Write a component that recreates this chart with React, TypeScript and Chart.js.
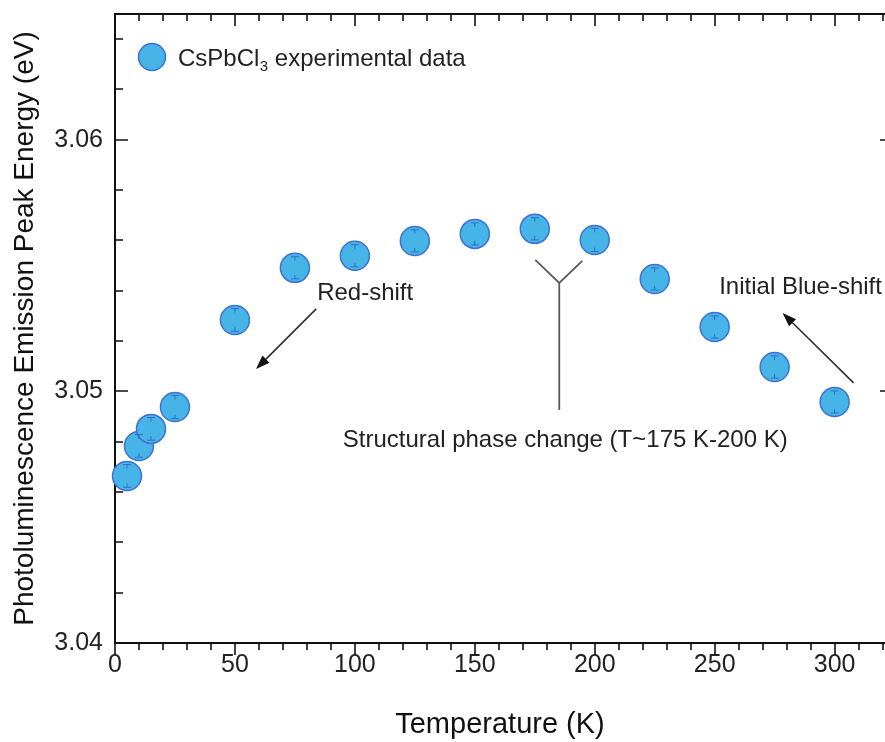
import React, { useEffect, useRef } from "react";
import { Chart, registerables } from "chart.js";

Chart.register(...registerables);

// ---- data ----
const temperatures = [5, 10, 15, 25, 50, 75, 100, 125, 150, 175, 200, 225, 250, 275, 300];
const peakEnergy = [
  3.04664, 3.04783, 3.04851, 3.04938, 3.05284, 3.05491, 3.05539, 3.05598, 3.05626, 3.05646,
  3.05602, 3.05447, 3.05256, 3.05097, 3.04958,
];
const energyError = [
  0.00045, 0.00045, 0.00045, 0.00046, 0.00045, 0.00044, 0.00044, 0.00044, 0.00044, 0.00044,
  0.00046, 0.00044, 0.00044, 0.00044, 0.00044,
];

const xMajorTicks = [0, 50, 100, 150, 200, 250, 300];
const xMinorTicks = [10, 20, 30, 40, 60, 70, 80, 90, 110, 120, 130, 140, 160, 170, 180, 190, 210, 220, 230, 240, 260, 270, 280, 290, 310, 320];
const yMajorTicks = [3.04, 3.05, 3.06];
const yMinorTicks = [3.042, 3.044, 3.046, 3.048, 3.052, 3.054, 3.056, 3.058, 3.062, 3.064];

const legendParts = ["CsPbCl", "3", " experimental data"];

// annotations (data coordinates)
const labelTexts = ["Red-shift", "Initial Blue-shift", "Structural phase change (T~175 K-200 K)"];
const labelX = [104.3, 285.8, 187.7];
const labelY = [3.05388, 3.05412, 3.04807];

const arrowFromX = [83.9, 307.9];
const arrowFromY = [3.05328, 3.05034];
const arrowToX = [58.8, 278.3];
const arrowToY = [3.05089, 3.05312];

// "Y" bracket: left arm top, right arm top, junction, stem bottom
const bracketX = [175.2, 194.8, 185.2, 185.2];
const bracketY = [3.05523, 3.05519, 3.05431, 3.04926];

const FONT = "'Liberation Sans', Arial, Helvetica, sans-serif";
const POINT_FILL = "#47b4e8";
const POINT_BORDER = "#3c72d4";
const ERR_COLOR = "rgba(45, 85, 180, 0.75)";
const AXIS_COLOR = "#111111";

function drawArrow(ctx: CanvasRenderingContext2D, x1: number, y1: number, x2: number, y2: number) {
  const head = 14;
  const hw = 5;
  const ang = Math.atan2(y2 - y1, x2 - x1);
  const bx = x2 - head * Math.cos(ang);
  const by = y2 - head * Math.sin(ang);
  ctx.beginPath();
  ctx.moveTo(x1, y1);
  ctx.lineTo(bx, by);
  ctx.stroke();
  ctx.beginPath();
  ctx.moveTo(x2, y2);
  ctx.lineTo(bx + hw * Math.sin(ang), by - hw * Math.cos(ang));
  ctx.lineTo(bx - hw * Math.sin(ang), by + hw * Math.cos(ang));
  ctx.closePath();
  ctx.fill();
}

const framePlugin = {
  id: "frame",
  beforeDatasetsDraw(chart: any) {
    const { ctx, chartArea, scales } = chart;
    const { left, right, top, bottom } = chartArea;
    const xs = scales.x;
    const ys = scales.y;
    ctx.save();
    ctx.strokeStyle = AXIS_COLOR;
    ctx.lineWidth = 2;
    ctx.beginPath();
    ctx.moveTo(left, top);
    ctx.lineTo(left, bottom);
    ctx.moveTo(left - 1, bottom);
    ctx.lineTo(right, bottom);
    ctx.moveTo(left - 1, top);
    ctx.lineTo(right, top);
    ctx.stroke();

    ctx.lineWidth = 1.6;
    ctx.beginPath();
    // x ticks: bottom outward, top inward
    xMajorTicks.forEach((v) => {
      const p = Math.round(xs.getPixelForValue(v));
      ctx.moveTo(p, bottom);
      ctx.lineTo(p, bottom + 12);
      ctx.moveTo(p, top);
      ctx.lineTo(p, top + 12);
    });
    xMinorTicks.forEach((v) => {
      const p = Math.round(xs.getPixelForValue(v));
      ctx.moveTo(p, bottom);
      ctx.lineTo(p, bottom + 7);
      ctx.moveTo(p, top);
      ctx.lineTo(p, top + 7);
    });
    // y ticks: left inward, right inward (right axis lies just beyond the frame)
    yMajorTicks.forEach((v) => {
      const p = Math.round(ys.getPixelForValue(v));
      ctx.moveTo(left, p);
      ctx.lineTo(left + 13, p);
      ctx.moveTo(right, p);
      ctx.lineTo(right - 5, p);
    });
    yMinorTicks.forEach((v) => {
      const p = Math.round(ys.getPixelForValue(v));
      ctx.moveTo(left, p);
      ctx.lineTo(left + 8, p);
    });
    ctx.stroke();
    ctx.restore();
  },
  afterDatasetsDraw(chart: any) {
    const { ctx, chartArea, scales } = chart;
    const xs = scales.x;
    const ys = scales.y;
    ctx.save();

    // error bars inside markers (caps with short stubs)
    ctx.strokeStyle = ERR_COLOR;
    ctx.lineWidth = 1;
    temperatures.forEach((t, i) => {
      const px = xs.getPixelForValue(t);
      const pTop = ys.getPixelForValue(peakEnergy[i] + energyError[i]);
      const pBot = ys.getPixelForValue(peakEnergy[i] - energyError[i]);
      ctx.beginPath();
      ctx.moveTo(px, pTop);
      ctx.lineTo(px, pTop + 4);
      ctx.moveTo(px, pBot);
      ctx.lineTo(px, pBot - 4);
      ctx.moveTo(px - 4, pTop);
      ctx.lineTo(px + 4, pTop);
      ctx.moveTo(px - 4, pBot);
      ctx.lineTo(px + 4, pBot);
      ctx.stroke();
    });

    // arrows
    ctx.strokeStyle = "#2a2a2a";
    ctx.fillStyle = "#111111";
    ctx.lineWidth = 1.5;
    arrowFromX.forEach((_, i) => {
      drawArrow(
        ctx,
        xs.getPixelForValue(arrowFromX[i]),
        ys.getPixelForValue(arrowFromY[i]),
        xs.getPixelForValue(arrowToX[i]),
        ys.getPixelForValue(arrowToY[i])
      );
    });

    // Y-shaped bracket
    ctx.strokeStyle = "#5a5a5a";
    ctx.lineWidth = 1.8;
    const bp = bracketX.map((x, i) => [xs.getPixelForValue(x), ys.getPixelForValue(bracketY[i])]);
    ctx.beginPath();
    ctx.moveTo(bp[0][0], bp[0][1]);
    ctx.lineTo(bp[2][0], bp[2][1]);
    ctx.lineTo(bp[1][0], bp[1][1]);
    ctx.moveTo(bp[2][0], bp[2][1]);
    ctx.lineTo(bp[3][0], bp[3][1]);
    ctx.stroke();

    // annotation labels
    ctx.fillStyle = "#222222";
    ctx.font = `24px ${FONT}`;
    ctx.textAlign = "center";
    ctx.textBaseline = "middle";
    labelTexts.forEach((txt, i) => {
      ctx.fillText(txt, xs.getPixelForValue(labelX[i]), ys.getPixelForValue(labelY[i]));
    });

    // legend
    const lx = chartArea.left + 37;
    const ly = chartArea.top + 43;
    ctx.beginPath();
    ctx.arc(lx, ly, 13.5, 0, Math.PI * 2);
    ctx.fillStyle = POINT_FILL;
    ctx.fill();
    ctx.strokeStyle = POINT_BORDER;
    ctx.lineWidth = 1.5;
    ctx.stroke();

    ctx.fillStyle = "#222222";
    ctx.textAlign = "left";
    ctx.textBaseline = "alphabetic";
    let tx = lx + 26;
    const base = ly + 8.5;
    ctx.font = `24px ${FONT}`;
    ctx.fillText(legendParts[0], tx, base);
    tx += ctx.measureText(legendParts[0]).width;
    ctx.font = `15px ${FONT}`;
    ctx.fillText(legendParts[1], tx + 0.5, base + 5);
    tx += ctx.measureText(legendParts[1]).width + 0.5;
    ctx.font = `24px ${FONT}`;
    ctx.fillText(legendParts[2], tx, base);

    ctx.restore();
  },
};

export default function App() {
  const canvasRef = useRef<HTMLCanvasElement | null>(null);

  useEffect(() => {
    if (!canvasRef.current) return;
    const chart = new Chart(canvasRef.current, {
      type: "scatter",
      data: {
        datasets: [
          {
            label: "CsPbCl3 experimental data",
            data: temperatures.map((t, i) => ({ x: t, y: peakEnergy[i] })),
            pointRadius: 14.5,
            pointHoverRadius: 14.5,
            pointBackgroundColor: POINT_FILL,
            pointBorderColor: POINT_BORDER,
            pointBorderWidth: 1.5,
            showLine: false,
            clip: false,
          } as any,
        ],
      },
      options: {
        responsive: false,
        animation: false,
        devicePixelRatio: 1,
        events: [],
        layout: { autoPadding: false, padding: { top: 14, right: 0, left: 0, bottom: 0 } },
        plugins: {
          legend: { display: false },
          tooltip: { enabled: false },
        },
        scales: {
          x: {
            type: "linear",
            min: 0,
            max: 321,
            afterBuildTicks: (s: any) => {
              s.ticks = xMajorTicks.map((v) => ({ value: v }));
            },
            afterFit: (s: any) => {
              s.height = 99;
              s.paddingLeft = 0;
              s.paddingRight = 0;
            },
            grid: { display: false, drawTicks: false },
            border: { display: false },
            ticks: {
              font: { family: FONT, size: 25 },
              color: "#222222",
              padding: 7,
              maxRotation: 0,
              autoSkip: false,
            },
            title: {
              display: true,
              text: "Temperature (K)",
              font: { family: FONT, size: 29 },
              color: "#111111",
              padding: { top: 0, bottom: 0 },
            },
          },
          y: {
            type: "linear",
            min: 3.04,
            max: 3.065,
            afterBuildTicks: (s: any) => {
              s.ticks = yMajorTicks.map((v) => ({ value: v }));
            },
            afterFit: (s: any) => {
              s.width = 115;
              s.paddingTop = 0;
              s.paddingBottom = 0;
            },
            grid: { display: false, drawTicks: false },
            border: { display: false },
            ticks: {
              font: { family: FONT, size: 25 },
              color: "#222222",
              padding: 12,
              callback: (v: any) => Number(v).toFixed(2),
            },
            title: {
              display: true,
              text: "Photoluminescence Emission Peak Energy (eV)",
              font: { family: FONT, size: 28 },
              color: "#111111",
              padding: { top: 8, bottom: 0 },
            },
          },
        },
      },
      plugins: [framePlugin],
    });
    return () => chart.destroy();
  }, []);

  return (
    <div style={{ position: "absolute", left: 0, top: 0, width: 885, height: 742, background: "#ffffff" }}>
      <canvas ref={canvasRef} width={885} height={742} style={{ display: "block", width: 885, height: 742 }} />
    </div>
  );
}
